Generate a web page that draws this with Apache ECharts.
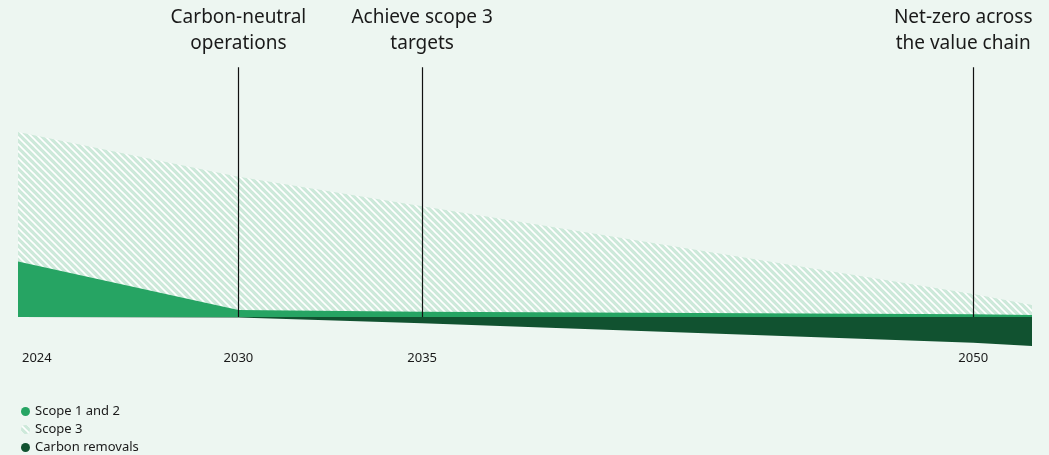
<!DOCTYPE html>
<html><head><meta charset="utf-8">
<script src="https://cdn.jsdelivr.net/npm/echarts@6/dist/echarts.min.js"></script>
<style>html,body{margin:0;padding:0;background:#edf6f1}#c{width:1049px;height:455px}</style>
</head><body><div id="c"></div>
<script>
// ---- data ----
const years = [2024, 2030, 2035, 2050, 2051.6];
const scope12 = [30, 3.8, 2.9, 1.5, 1.1];
const scope3 = [70, 72, 57, 11, 5.4];
const removals = [0, -0.3, -3.4, -13.9, -15.7];
const tickYears = [2024, 2030, 2035, 2050];
const milestoneYears = [2030, 2035, 2050];
const milestoneLabels = ['Carbon-neutral\noperations', 'Achieve scope 3\ntargets', 'Net-zero across\nthe value chain'];
const milestoneTop = 135;
const seriesNames = ['Scope 1 and 2', 'Scope 3', 'Carbon removals'];

// ---- hatch pattern ----
function makeHatch() {
  const s = 7;
  const cv = document.createElement('canvas');
  cv.width = s; cv.height = s;
  const ctx = cv.getContext('2d');
  ctx.fillStyle = '#cde9da';
  ctx.fillRect(0, 0, s, s);
  ctx.strokeStyle = '#ffffff';
  ctx.lineWidth = 1.6;
  for (const k of [-s, 0, s]) {
    ctx.beginPath();
    ctx.moveTo(k - 1, -1);
    ctx.lineTo(k + s + 1, s + 1);
    ctx.stroke();
  }
  return cv;
}
const hatchArea = { type: 'pattern', image: makeHatch(), repeat: 'repeat' };
const hatchLegend = { type: 'pattern', image: makeHatch(), repeat: 'repeat' };

// Scope 3 sits on top of scope 1 and 2: draw its top edge (sum) first, then scope 1 and 2 over it
const pair = a => years.map((y, i) => [y, a[i]]);
const scope3Top = years.map((y, i) => [y, scope12[i] + scope3[i]]);
const font = '"Noto Sans", "Open Sans", sans-serif';

const chart = echarts.init(document.getElementById('c'), null, { renderer: 'canvas' });
chart.setOption({
  backgroundColor: '#edf6f1',
  animation: false,
  textStyle: { fontFamily: font },
  grid: { left: 18, right: 17, top: 67.25, bottom: 108.4, containLabel: false },
  xAxis: {
    type: 'value', min: 2024, max: 2051.6,
    axisLine: { show: false }, axisTick: { show: false }, splitLine: { show: false },
    axisLabel: {
      customValues: tickYears,
      formatter: v => (v === 2024 ? '{first|' + v + '}' : String(v)),
      rich: { first: { fontSize: 13, color: '#1a1a1a', padding: [0, 0, 0, 4], fontFamily: font } },
      fontSize: 13, color: '#1a1a1a', margin: 5, fontFamily: font,
      alignMinLabel: 'left'
    }
  },
  yAxis: { type: 'value', min: -16, max: 135, show: false, splitLine: { show: false } },
  legend: {
    orient: 'vertical', left: 16, top: 399, height: 60, itemGap: 3,
    icon: 'circle', itemWidth: 9, itemHeight: 9,
    textStyle: { fontSize: 13, color: '#1a1a1a', lineHeight: 15, fontFamily: font },
    data: [
      { name: seriesNames[0], itemStyle: { color: '#26a463' } },
      { name: seriesNames[1], itemStyle: { color: hatchLegend } },
      { name: seriesNames[2], itemStyle: { color: '#115230' } }
    ]
  },
  series: [
    {
      name: seriesNames[1], type: 'line', data: scope3Top,
      showSymbol: false, symbol: 'none', lineStyle: { width: 0 },
      itemStyle: { color: '#cde9da' },
      areaStyle: { color: hatchArea, opacity: 1 }
    },
    {
      name: seriesNames[0], type: 'line', data: pair(scope12),
      showSymbol: false, symbol: 'none', lineStyle: { width: 0 },
      itemStyle: { color: '#26a463' },
      areaStyle: { color: '#26a463', opacity: 1 }
    },
    {
      name: seriesNames[2], type: 'line', data: pair(removals),
      showSymbol: false, symbol: 'none', lineStyle: { width: 0 },
      itemStyle: { color: '#115230' },
      areaStyle: { color: '#115230', opacity: 1 },
      markLine: {
        silent: true, symbol: 'none', animation: false,
        lineStyle: { color: '#111', width: 1.2, type: 'solid' },
        label: {
          show: true, position: 'end', distance: 11,
          fontSize: 19, lineHeight: 26, color: '#1a1a1a', fontFamily: font, align: 'center'
        },
        data: milestoneYears.map((y, i) => [
          { coord: [y, 0], label: { formatter: milestoneLabels[i], offset: i === 2 ? [-10, 0] : [0, 0] } },
          { coord: [y, milestoneTop] }
        ])
      }
    }
  ]
});
</script>
</body></html>
